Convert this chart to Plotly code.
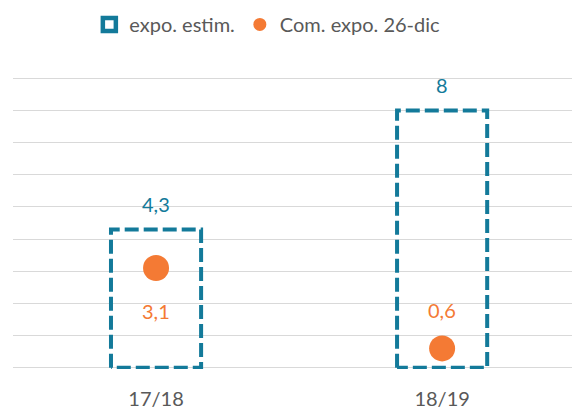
import plotly.graph_objects as go

categories = ["17/18", "18/19"]
expo_estim = [4.3, 8.0]
com_expo = [3.1, 0.6]

BLUE = "#137A9A"
ORANGE = "#F47A34"
GREY = "#595959"
FONT = "Lato"
FS = 20
bar_w = 0.315

def fmt(v):
    return f"{v:g}".replace(".", ",")

fig = go.Figure()

xs = list(range(len(categories)))

# dashed outline bars
for i, v in zip(xs, expo_estim):
    fig.add_trace(go.Scatter(
        x=[i - bar_w / 2, i - bar_w / 2, i + bar_w / 2, i + bar_w / 2, i - bar_w / 2],
        y=[0, v, v, 0, 0],
        mode="lines",
        line=dict(color=BLUE, width=4, dash="14px,5px"),
        showlegend=False, hoverinfo="skip",
    ))

fig.add_trace(go.Scatter(
    x=xs, y=com_expo, mode="markers",
    marker=dict(color=ORANGE, size=26),
    showlegend=False,
))

# legend entries
fig.add_trace(go.Scatter(
    x=[None], y=[None], mode="markers", name="expo. estim.",
    marker=dict(symbol="square-open", color=BLUE, size=13, line=dict(width=4.5, color=BLUE)),
))
fig.add_trace(go.Scatter(
    x=[None], y=[None], mode="markers", name="Com. expo. 26-dic",
    marker=dict(symbol="circle", color=ORANGE, size=13),
))

annotations = []
for i, v in zip(xs, expo_estim):
    annotations.append(dict(x=i, y=v, text=fmt(v), showarrow=False, yshift=25,
                            font=dict(color=BLUE, size=FS, family=FONT)))
shifts = [-43, 38]
for i, v, s in zip(xs, com_expo, shifts):
    annotations.append(dict(x=i, y=v, text=fmt(v), showarrow=False, yshift=s,
                            font=dict(color=ORANGE, size=FS, family=FONT)))

fig.update_layout(
    width=572, height=410,
    margin=dict(l=13, r=0, t=77, b=39),
    paper_bgcolor="white", plot_bgcolor="white",
    font=dict(family=FONT, size=FS, color=GREY),
    showlegend=True,
    legend=dict(orientation="h", x=0.455, xanchor="center", y=1.18, yanchor="middle",
                font=dict(size=FS, color=GREY, family=FONT), itemwidth=30),
    annotations=annotations,
    xaxis=dict(range=[-0.5, 1.454], tickvals=xs, ticktext=categories,
               showgrid=False, zeroline=False, showline=False,
               ticks="outside", ticklen=12, tickcolor="rgba(0,0,0,0)",
               tickfont=dict(size=FS, color=GREY, family=FONT), fixedrange=True),
    yaxis=dict(range=[-0.04, 9.04], tickvals=list(range(10)), showgrid=True,
               gridcolor="#D9D9D9", gridwidth=1,
               zeroline=False, showticklabels=False, showline=False, fixedrange=True),
)

fig.write_html("out.html")
